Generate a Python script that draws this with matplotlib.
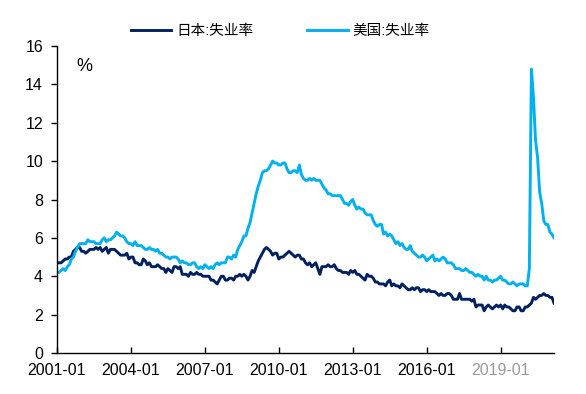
import matplotlib
matplotlib.use('Agg')
import matplotlib.pyplot as plt
import numpy as np

plt.rcParams['font.family'] = ['Liberation Sans', 'Noto Sans CJK SC', 'DejaVu Sans']

# monthly unemployment rate, 2001-01 .. 2021-03 (%)
japan = [
    4.7, 4.7, 4.7, 4.8, 4.9, 4.9, 5.0, 5.0, 5.3, 5.4, 5.5, 5.5,   # 2001
    5.3, 5.3, 5.2, 5.3, 5.4, 5.4, 5.4, 5.5, 5.4, 5.5, 5.3, 5.4,   # 2002
    5.5, 5.2, 5.4, 5.4, 5.4, 5.3, 5.2, 5.1, 5.1, 5.1, 5.2, 4.9,   # 2003
    5.0, 5.0, 4.7, 4.7, 4.6, 4.6, 4.9, 4.8, 4.6, 4.7, 4.5, 4.5,   # 2004
    4.5, 4.6, 4.5, 4.4, 4.4, 4.2, 4.4, 4.3, 4.2, 4.5, 4.5, 4.4,   # 2005
    4.5, 4.1, 4.1, 4.1, 4.0, 4.2, 4.1, 4.1, 4.2, 4.1, 4.1, 4.0,   # 2006
    4.0, 4.0, 4.0, 3.8, 3.8, 3.7, 3.6, 3.8, 4.0, 4.0, 3.8, 3.8,   # 2007
    3.9, 3.9, 3.8, 4.0, 4.0, 4.1, 4.0, 4.1, 4.0, 3.8, 4.0, 4.3,   # 2008
    4.2, 4.5, 4.8, 5.0, 5.2, 5.4, 5.5, 5.4, 5.3, 5.1, 5.2, 5.2,   # 2009
    4.9, 5.0, 5.0, 5.1, 5.2, 5.3, 5.2, 5.1, 5.0, 5.1, 5.1, 4.9,   # 2010
    4.9, 4.7, 4.6, 4.7, 4.5, 4.6, 4.7, 4.4, 4.1, 4.5, 4.5, 4.5,   # 2011
    4.6, 4.5, 4.5, 4.6, 4.4, 4.3, 4.3, 4.2, 4.2, 4.2, 4.1, 4.3,   # 2012
    4.2, 4.3, 4.1, 4.1, 4.0, 3.9, 3.8, 4.1, 4.0, 4.0, 3.9, 3.7,   # 2013
    3.7, 3.6, 3.6, 3.6, 3.5, 3.7, 3.8, 3.5, 3.6, 3.5, 3.5, 3.4,   # 2014
    3.6, 3.5, 3.4, 3.3, 3.3, 3.4, 3.3, 3.4, 3.4, 3.2, 3.3, 3.3,   # 2015
    3.2, 3.3, 3.2, 3.2, 3.2, 3.1, 3.0, 3.1, 3.0, 3.0, 3.1, 3.1,   # 2016
    3.0, 2.8, 2.8, 2.8, 3.1, 2.8, 2.8, 2.8, 2.8, 2.8, 2.7, 2.8,   # 2017
    2.4, 2.5, 2.5, 2.5, 2.2, 2.4, 2.5, 2.4, 2.3, 2.4, 2.5, 2.4,   # 2018
    2.5, 2.3, 2.5, 2.4, 2.4, 2.3, 2.2, 2.2, 2.4, 2.4, 2.2, 2.2,   # 2019
    2.4, 2.4, 2.5, 2.6, 2.9, 2.8, 2.9, 3.0, 3.0, 3.1, 3.0, 3.0,   # 2020
    2.9, 2.9, 2.6,                                                # 2021
]
usa = [
    4.2, 4.2, 4.3, 4.4, 4.3, 4.5, 4.6, 4.9, 5.0, 5.3, 5.5, 5.7,   # 2001
    5.7, 5.7, 5.7, 5.9, 5.8, 5.8, 5.8, 5.7, 5.7, 5.7, 5.9, 6.0,   # 2002
    5.8, 5.9, 5.9, 6.0, 6.1, 6.3, 6.2, 6.1, 6.1, 6.0, 5.8, 5.7,   # 2003
    5.7, 5.6, 5.8, 5.6, 5.6, 5.6, 5.5, 5.4, 5.4, 5.5, 5.4, 5.4,   # 2004
    5.3, 5.4, 5.2, 5.2, 5.1, 5.0, 5.0, 4.9, 5.0, 5.0, 5.0, 4.9,   # 2005
    4.7, 4.8, 4.7, 4.7, 4.6, 4.6, 4.7, 4.7, 4.5, 4.4, 4.5, 4.4,   # 2006
    4.6, 4.5, 4.4, 4.5, 4.4, 4.6, 4.7, 4.6, 4.7, 4.7, 4.7, 5.0,   # 2007
    5.0, 4.9, 5.1, 5.0, 5.4, 5.6, 5.8, 6.1, 6.1, 6.5, 6.8, 7.3,   # 2008
    7.8, 8.3, 8.7, 9.0, 9.4, 9.5, 9.5, 9.6, 9.8, 10.0, 9.9, 9.9,  # 2009
    9.8, 9.8, 9.9, 9.9, 9.6, 9.4, 9.4, 9.5, 9.5, 9.4, 9.8, 9.3,   # 2010
    9.1, 9.0, 9.0, 9.1, 9.0, 9.1, 9.0, 9.0, 9.0, 8.8, 8.6, 8.5,   # 2011
    8.3, 8.3, 8.2, 8.2, 8.2, 8.2, 8.2, 8.0, 7.8, 7.8, 7.7, 7.9,   # 2012
    8.0, 7.7, 7.5, 7.6, 7.5, 7.5, 7.3, 7.2, 7.2, 7.2, 6.9, 6.7,   # 2013
    6.6, 6.7, 6.7, 6.2, 6.3, 6.1, 6.2, 6.1, 5.9, 5.7, 5.8, 5.6,   # 2014
    5.7, 5.5, 5.4, 5.4, 5.6, 5.3, 5.2, 5.1, 5.0, 5.0, 5.1, 5.0,   # 2015
    4.8, 4.9, 5.0, 5.1, 4.8, 4.9, 4.8, 4.9, 5.0, 4.9, 4.7, 4.7,   # 2016
    4.7, 4.6, 4.4, 4.4, 4.4, 4.3, 4.3, 4.4, 4.3, 4.2, 4.2, 4.1,   # 2017
    4.0, 4.1, 4.0, 4.0, 3.8, 4.0, 3.8, 3.8, 3.7, 3.8, 3.8, 3.9,   # 2018
    4.0, 3.8, 3.8, 3.7, 3.6, 3.6, 3.7, 3.6, 3.5, 3.6, 3.6, 3.6,   # 2019
    3.5, 3.5, 4.4, 14.8, 13.3, 11.1, 10.2, 8.4, 7.8, 6.9, 6.7, 6.7,  # 2020
    6.3, 6.2, 6.0,                                                   # 2021
]
tick_labels = ['2001-01', '2004-01', '2007-01', '2010-01', '2013-01', '2016-01', '2019-01']
tick_months = [0, 36, 72, 108, 144, 180, 216]

months = np.arange(len(japan))

fig = plt.figure(figsize=(5.86, 3.94), dpi=100)
ax = fig.add_axes([57 / 586, 1 - 353 / 394, (554 - 57) / 586, (353 - 46) / 394])

l1, = ax.plot(months, japan, color='#002060', lw=2.1, label='日本:失业率')
l2, = ax.plot(months, usa, color='#00B0F0', lw=2.1, label='美国:失业率')

ax.set_xlim(0, len(japan) - 1)
ax.set_ylim(0, 16)
ax.set_yticks(np.arange(0, 17, 2))
ax.set_xticks(tick_months)
ax.set_xticklabels(tick_labels)
ax.get_xticklabels()[-1].set_color('#9a9a9a')

for s in ['top', 'right']:
    ax.spines[s].set_visible(False)
for s in ['left', 'bottom']:
    ax.spines[s].set_linewidth(1.0)
ax.tick_params(axis='y', direction='out', length=4, width=1, labelsize=11.5, pad=6)
ax.tick_params(axis='x', direction='in', length=4, width=1, labelsize=11.5, pad=7)

ax.text(0.038, 0.96, '%', transform=ax.transAxes, fontsize=13, ha='left', va='top')

fig.legend(handles=[l1, l2], loc='center', bbox_to_anchor=(280.5 / 586, 1 - 31 / 394),
           ncol=2, frameon=False, fontsize=10.5, handlelength=2.75, handletextpad=0.35,
           columnspacing=3.7, borderaxespad=0)

fig.savefig('out.png', dpi=100)
